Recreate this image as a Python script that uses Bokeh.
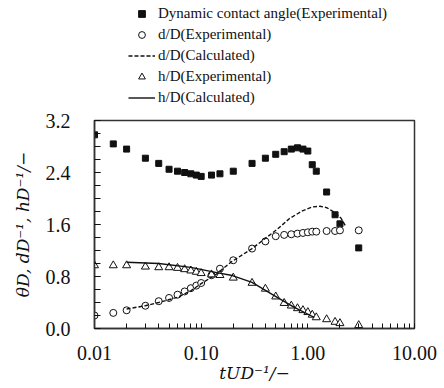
from bokeh.plotting import figure
from bokeh.layouts import column
from bokeh.models import (FixedTicker, PrintfTickFormatter, Legend, LegendItem, Range1d)
from bokeh.embed import file_html
from bokeh.resources import INLINE

# ---- data ----
x_exp = [0.01, 0.015, 0.02, 0.03, 0.04, 0.05, 0.06, 0.07, 0.08, 0.09, 0.10, 0.125, 0.15,
         0.20, 0.30, 0.40, 0.50, 0.60, 0.70, 0.80, 0.90, 1.00, 1.10, 1.20, 1.50, 1.80, 2.00, 3.00]
theta_exp = [2.98, 2.84, 2.76, 2.62, 2.54, 2.45, 2.42, 2.40, 2.38, 2.36, 2.34, 2.36, 2.38,
             2.42, 2.54, 2.62, 2.68, 2.72, 2.76, 2.78, 2.76, 2.73, 2.52, 2.42, 2.10, 1.75, 1.61, 1.24]
d_exp = [0.20, 0.24, 0.28, 0.35, 0.42, 0.47, 0.52, 0.57, 0.62, 0.66, 0.70, 0.82, 0.92,
         1.05, 1.23, 1.34, 1.42, 1.44, 1.45, 1.46, 1.47, 1.48, 1.49, 1.49, 1.50, 1.50, 1.51, 1.51]
h_exp = [0.97, 0.97, 0.97, 0.95, 0.94, 0.94, 0.93, 0.91, 0.89, 0.87, 0.85, 0.83, 0.82,
         0.78, 0.70, 0.61, 0.49, 0.39, 0.35, 0.31, 0.28, 0.25, 0.21, 0.17, 0.14, 0.10, 0.08, 0.05]

x_dcalc = [0.02, 0.03, 0.04, 0.06, 0.08, 0.10, 0.14, 0.19, 0.30, 0.52, 0.67, 0.89, 1.10, 1.30,
           1.50, 1.77, 2.04, 2.25]
d_calc = [0.30, 0.35, 0.40, 0.48, 0.58, 0.69, 0.84, 1.02, 1.23, 1.53, 1.69, 1.81, 1.87, 1.88,
          1.86, 1.79, 1.70, 1.58]

x_hcalc = [0.02, 0.04, 0.08, 0.14, 0.19, 0.30, 0.48, 0.74, 1.06, 1.15]
h_calc = [1.02, 1.00, 0.94, 0.86, 0.82, 0.71, 0.51, 0.33, 0.20, 0.17]

y_ticks = [0.0, 0.8, 1.6, 2.4, 3.2]
y_minor = [round(0.2 * i, 1) for i in range(17)]
x_ticks = [0.01, 0.1, 1.0, 10.0]
x_minor = [m * d for d in (0.01, 0.1, 1.0) for m in range(2, 10)]

labels = ["Dynamic contact angle(Experimental)", "d/D(Experimental)", "d/D(Calculated)",
          "h/D(Experimental)", "h/D(Calculated)"]

FONT = "Liberation Serif"
MATH_FONT = "DejaVu Serif"
INK = "#111111"

SQ = dict(marker="square", size=6, color=INK)
CI = dict(marker="circle", size=7, fill_color="white", line_color=INK, line_width=1)
TR = dict(marker="triangle", size=8, fill_color="white", line_color=INK, line_width=1)
DA = dict(line_dash="4 2", line_width=1.4, color=INK)
SO = dict(line_width=1.4, color=INK)


def add_series(fig):
    r0 = fig.scatter(x_exp, theta_exp, **SQ)
    r1 = fig.scatter(x_exp, d_exp, **CI)
    r2 = fig.line(x_dcalc, d_calc, **DA)
    r3 = fig.scatter(x_exp, h_exp, **TR)
    r4 = fig.line(x_hcalc, h_calc, **SO)
    return [r0, r1, r2, r3, r4]


# ---- main plot ----
p = figure(width=444, height=282, x_axis_type="log", output_backend="svg",
           toolbar_location=None, x_range=Range1d(0.01, 10), y_range=Range1d(0, 3.2),
           min_border_left=94, min_border_right=30, min_border_top=14, min_border_bottom=60)
p.background_fill_color = "white"
p.border_fill_color = "white"
p.grid.visible = False
p.outline_line_color = "#333333"
p.outline_line_width = 1.5
add_series(p)

for ax in (p.xaxis[0], p.yaxis[0]):
    ax.axis_line_color = "#333333"
    ax.axis_line_width = 1.5
    ax.major_tick_out = 0
    ax.minor_tick_out = 0
    ax.major_tick_line_color = INK
    ax.minor_tick_line_color = INK
    ax.major_label_text_font = FONT
    ax.major_label_text_font_size = "20px"
    ax.major_label_text_color = INK
    ax.axis_label_text_font = MATH_FONT
    ax.axis_label_text_font_style = "italic"
    ax.axis_label_text_font_size = "17px"
    ax.axis_label_text_color = INK

p.yaxis[0].ticker = FixedTicker(ticks=y_ticks, minor_ticks=y_minor)
p.yaxis[0].formatter = PrintfTickFormatter(format="%.1f")
p.yaxis[0].major_tick_in = 6
p.yaxis[0].minor_tick_in = 6
p.yaxis[0].major_label_standoff = 24
p.yaxis[0].axis_label = "θD, dD⁻¹, hD⁻¹/−"
p.yaxis[0].axis_label_standoff = 10

p.xaxis[0].ticker = FixedTicker(ticks=x_ticks, minor_ticks=x_minor)
p.xaxis[0].formatter = PrintfTickFormatter(format="%.2f")
p.xaxis[0].major_tick_in = 5
p.xaxis[0].minor_tick_in = 5
p.xaxis[0].major_label_standoff = 17
p.xaxis[0].axis_label = "tUD⁻¹/−"
p.xaxis[0].axis_label_standoff = 0

# ---- legend panel above the plot (its range shows no data; renderers only feed the legend) ----
lg = figure(width=444, height=106, output_backend="svg", toolbar_location=None,
            x_range=Range1d(100, 101), y_range=Range1d(100, 101),
            x_axis_location=None, y_axis_location=None, min_border=0)
lg.grid.visible = False
lg.outline_line_color = None
lg.background_fill_color = "white"
lg.border_fill_color = "white"
rs = add_series(lg)

legend = Legend(items=[LegendItem(label=lab, renderers=[r]) for lab, r in zip(labels, rs)],
                location=(34, 0), padding=0, margin=0, spacing=4, glyph_height=17,
                glyph_width=27, label_height=17, label_standoff=3, label_text_font=FONT,
                label_text_font_size="15px", label_text_color=INK,
                border_line_color=None, background_fill_alpha=0)
lg.add_layout(legend, "center")

layout = column(lg, p, spacing=0)
open("out.html", "w").write(file_html(layout, INLINE))
